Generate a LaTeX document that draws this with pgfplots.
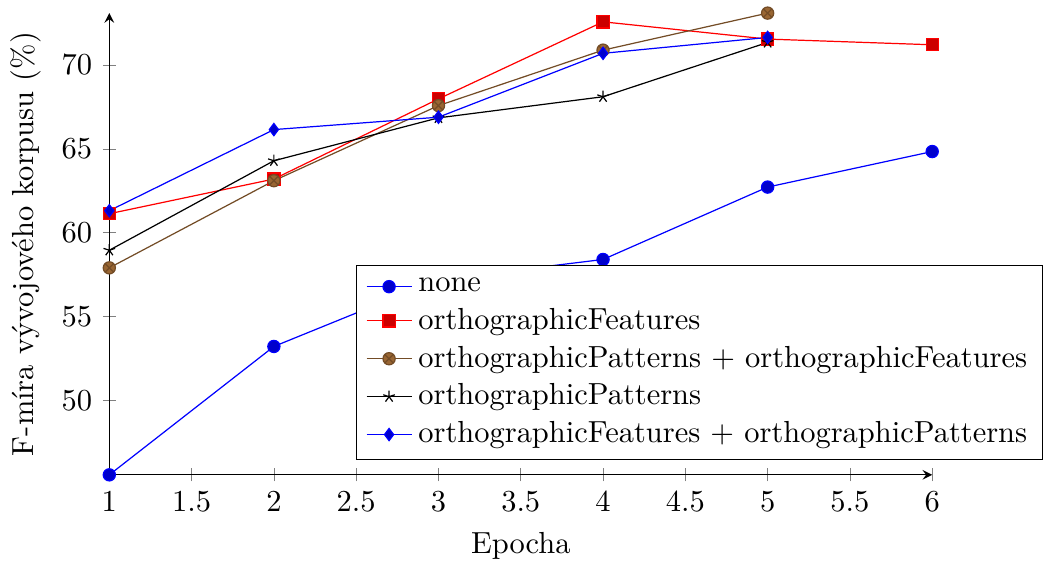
\documentclass[border={0pt 0pt 0pt 2.3pt}]{standalone}
\usepackage{fontspec}
\usepackage{pgfplots}
\pgfplotsset{compat=1.18}
\begin{document}
\begin{tikzpicture}
\begin{axis}[
  scale only axis,
  width=270pt, height=151.5pt,
  axis lines=left,
  xmin=1, xmax=6, ymin=45.55, ymax=73.1,
  xtick={1,1.5,2,2.5,3,3.5,4,4.5,5,5.5,6},
  ytick={50,55,60,65,70},
  xlabel={Epocha},
  ylabel={F-míra vývojového korpusu (\%)},
  legend image code/.code={\draw[mark repeat=2,mark phase=2,#1] plot coordinates {(0cm,0cm) (0.26cm,0cm) (0.52cm,0cm)};},
  legend style={at={(0.3,0.455)}, anchor=north west, legend cell align=left},
]
\addplot coordinates {(1,45.55) (2,53.21) (3,57.2) (4,58.40) (5,62.72) (6,64.84)};
\addlegendentry{none}
\addplot coordinates {(1,61.13) (2,63.2) (3,67.98) (4,72.58) (5,71.55) (6,71.21)};
\addlegendentry{orthographicFeatures}
\addplot coordinates {(1,57.90) (2,63.1) (3,67.58) (4,70.89) (5,73.1)};
\addlegendentry{orthographicPatterns + orthographicFeatures}
\addplot coordinates {(1,58.95) (2,64.29) (3,66.85) (4,68.11) (5,71.35)};
\addlegendentry{orthographicPatterns}
\addplot coordinates {(1,61.31) (2,66.15) (3,66.89) (4,70.70) (5,71.65)};
\addlegendentry{orthographicFeatures + orthographicPatterns}
\end{axis}
\end{tikzpicture}
\end{document}
